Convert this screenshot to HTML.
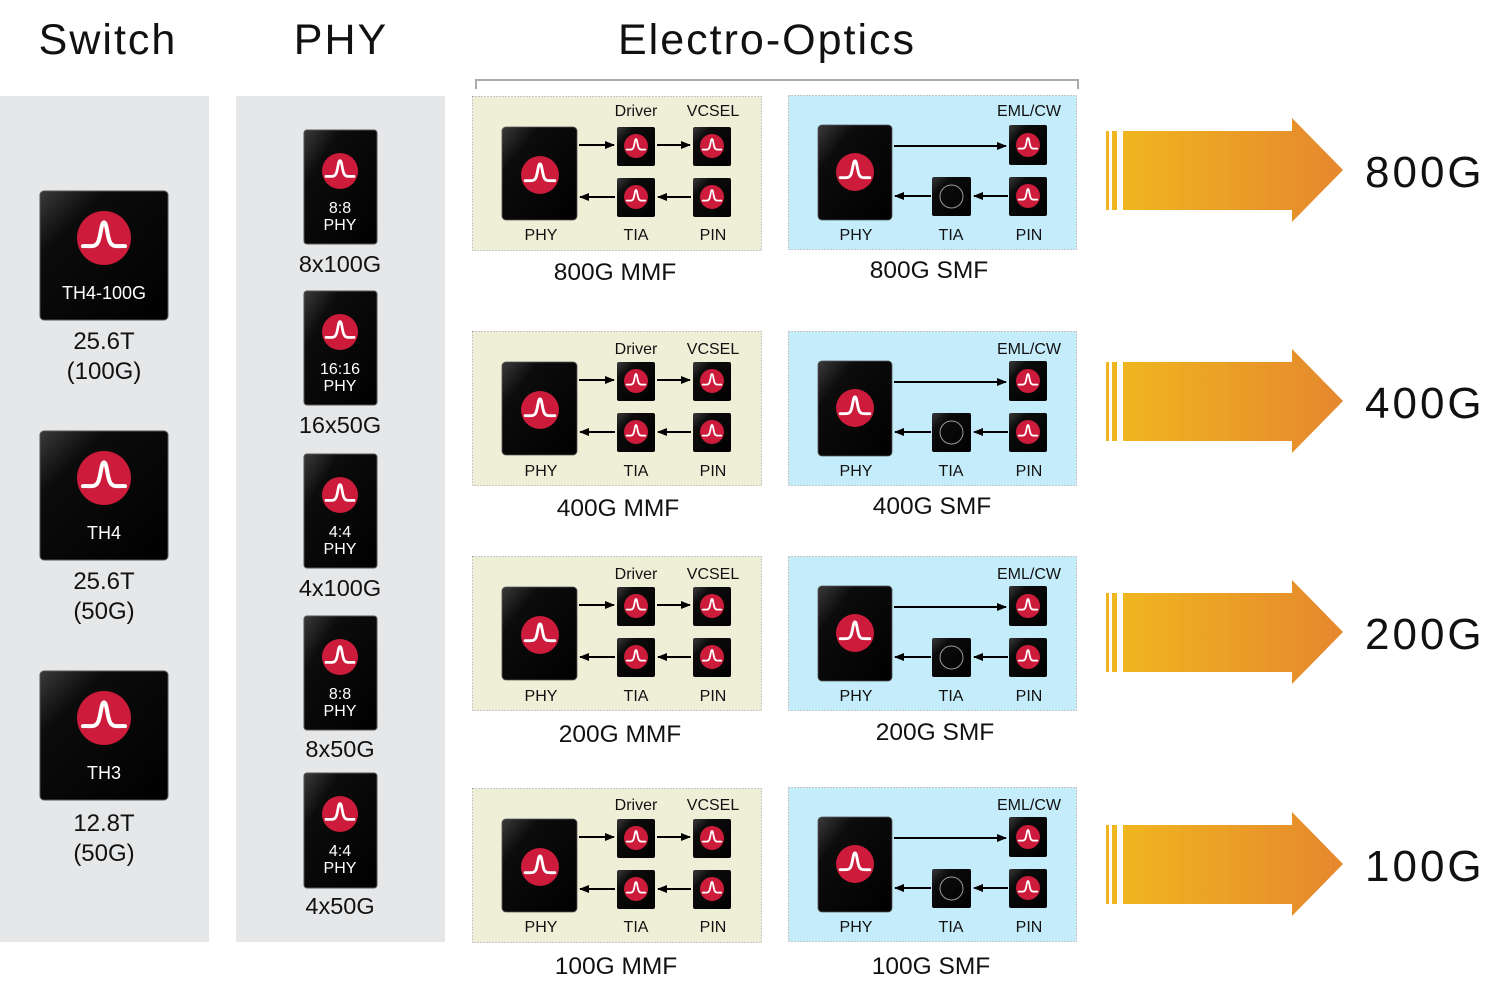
<!DOCTYPE html>
<html><head><meta charset="utf-8"><style>
html,body{margin:0;padding:0;background:#fff;}
svg{display:block;font-family:"Liberation Sans",Arial,sans-serif;}
</style></head><body>
<svg width="1510" height="996" viewBox="0 0 1510 996" xmlns="http://www.w3.org/2000/svg">
<defs>
<linearGradient id="chip" x1="0" y1="0" x2="1" y2="1"><stop offset="0" stop-color="#3a3a3a"/><stop offset="0.25" stop-color="#0c0c0c"/><stop offset="1" stop-color="#000"/></linearGradient>
<linearGradient id="org" x1="0" y1="0" x2="1" y2="0"><stop offset="0" stop-color="#f0b51f"/><stop offset="1" stop-color="#e5872e"/></linearGradient>
<marker id="ah" markerWidth="10" markerHeight="8" refX="9" refY="4" orient="auto" markerUnits="userSpaceOnUse"><path d="M0,0 L10,4 L0,8 z" fill="#000"/></marker>
<symbol id="logo" viewBox="-1 -1 2 2" overflow="visible"><circle r="1" fill="#cc1b3b"/><path d="M-0.78,0.3 C-0.5,0.28 -0.3,0.38 -0.2,0.1 C-0.1,-0.2 -0.1,-0.58 0,-0.58 C0.1,-0.58 0.1,-0.2 0.2,0.1 C0.3,0.38 0.5,0.28 0.78,0.3" fill="none" stroke="#fff" stroke-width="0.15" stroke-linecap="round"/></symbol>
<g id="mmf">
<rect x="472.5" y="96.5" width="289" height="154" fill="#efefd8" stroke="#9a9a9a" stroke-dasharray="1,2"/>
<rect x="502" y="127" width="75" height="93" rx="4" fill="url(#chip)" stroke="#555" stroke-width="0.8"/>
<use href="#logo" x="521" y="156" width="38" height="38"/>
<rect x="617" y="127" width="38" height="39" rx="2" fill="url(#chip)"/><use href="#logo" x="624" y="134" width="24" height="24"/>
<rect x="693" y="127" width="38" height="39" rx="2" fill="url(#chip)"/><use href="#logo" x="700" y="134" width="24" height="24"/>
<rect x="617" y="178" width="38" height="39" rx="2" fill="url(#chip)"/><use href="#logo" x="624" y="185" width="24" height="24"/>
<rect x="693" y="178" width="38" height="39" rx="2" fill="url(#chip)"/><use href="#logo" x="700" y="185" width="24" height="24"/>
<line x1="579" y1="145" x2="614" y2="145" stroke="#000" stroke-width="2" marker-end="url(#ah)"/>
<line x1="657" y1="145" x2="690" y2="145" stroke="#000" stroke-width="2" marker-end="url(#ah)"/>
<line x1="691" y1="197" x2="658" y2="197" stroke="#000" stroke-width="2" marker-end="url(#ah)"/>
<line x1="615" y1="197" x2="580" y2="197" stroke="#000" stroke-width="2" marker-end="url(#ah)"/>
</g>
<g id="smf">
<rect x="788.5" y="95.5" width="288" height="154" fill="#c4ecfa" stroke="#9a9a9a" stroke-dasharray="1,2"/>
<rect x="818" y="125" width="74" height="95" rx="4" fill="url(#chip)" stroke="#555" stroke-width="0.8"/>
<use href="#logo" x="836" y="153" width="38" height="38"/>
<rect x="1009" y="125" width="38" height="40" rx="2" fill="url(#chip)"/><use href="#logo" x="1016" y="133" width="24" height="24"/>
<rect x="932" y="177" width="39" height="39" rx="2" fill="url(#chip)"/><circle cx="951.5" cy="196.5" r="11.5" fill="none" stroke="#999" stroke-width="1"/>
<rect x="1009" y="177" width="38" height="39" rx="2" fill="url(#chip)"/><use href="#logo" x="1016" y="184" width="24" height="24"/>
<line x1="894" y1="146" x2="1006" y2="146" stroke="#000" stroke-width="2" marker-end="url(#ah)"/>
<line x1="1008" y1="196" x2="974" y2="196" stroke="#000" stroke-width="2" marker-end="url(#ah)"/>
<line x1="931" y1="196" x2="895" y2="196" stroke="#000" stroke-width="2" marker-end="url(#ah)"/>
</g>
<g id="bigarrow">
<rect x="1106" y="131" width="3" height="79" fill="#f0b51f"/>
<rect x="1112" y="131" width="5" height="79" fill="#f0b51f"/>
<polygon points="1123,131 1292,131 1292,118 1343,170 1292,222 1292,210 1123,210" fill="url(#org)"/>
</g>
</defs>

<g font-size="43" fill="#111" text-anchor="middle" letter-spacing="2">
<text x="108" y="54">Switch</text>
<text x="341" y="54">PHY</text>
<text x="767" y="54">Electro-Optics</text>
</g>
<path d="M476,89 L476,80 L1078,80 L1078,89" fill="none" stroke="#aaa" stroke-width="2"/>

<rect x="0" y="96" width="209" height="846" fill="#e6e7e9"/>
<rect x="236" y="96" width="209" height="846" fill="#e6e7e9"/>

<g>
<rect x="40" y="191" width="128" height="129" rx="4" fill="url(#chip)" stroke="#555"/>
<use href="#logo" x="77" y="211" width="54" height="54"/>
<rect x="40" y="431" width="128" height="129" rx="4" fill="url(#chip)" stroke="#555"/>
<use href="#logo" x="77" y="451" width="54" height="54"/>
<rect x="40" y="671" width="128" height="129" rx="4" fill="url(#chip)" stroke="#555"/>
<use href="#logo" x="77" y="691" width="54" height="54"/>
</g>
<g fill="#fff" font-size="18" text-anchor="middle">
<text x="104" y="299">TH4-100G</text>
<text x="104" y="539">TH4</text>
<text x="104" y="779">TH3</text>
</g>
<g fill="#111" font-size="24" text-anchor="middle">
<text x="104" y="349">25.6T</text><text x="104" y="379">(100G)</text>
<text x="104" y="589">25.6T</text><text x="104" y="619">(50G)</text>
<text x="104" y="831">12.8T</text><text x="104" y="861">(50G)</text>
</g>

<g>
<rect x="304" y="130" width="73" height="114" rx="3" fill="url(#chip)" stroke="#555"/><use href="#logo" x="322" y="153" width="36" height="36"/>
<rect x="304" y="291" width="73" height="114" rx="3" fill="url(#chip)" stroke="#555"/><use href="#logo" x="322" y="314" width="36" height="36"/>
<rect x="304" y="454" width="73" height="114" rx="3" fill="url(#chip)" stroke="#555"/><use href="#logo" x="322" y="477" width="36" height="36"/>
<rect x="304" y="616" width="73" height="114" rx="3" fill="url(#chip)" stroke="#555"/><use href="#logo" x="322" y="639" width="36" height="36"/>
<rect x="304" y="773" width="73" height="115" rx="3" fill="url(#chip)" stroke="#555"/><use href="#logo" x="322" y="796" width="36" height="36"/>
</g>
<g fill="#fff" font-size="16" text-anchor="middle">
<text x="340" y="213">8:8</text><text x="340" y="230">PHY</text>
<text x="340" y="374">16:16</text><text x="340" y="391">PHY</text>
<text x="340" y="537">4:4</text><text x="340" y="554">PHY</text>
<text x="340" y="699">8:8</text><text x="340" y="716">PHY</text>
<text x="340" y="856">4:4</text><text x="340" y="873">PHY</text>
</g>
<g fill="#111" font-size="23.5" text-anchor="middle">
<text x="340" y="272">8x100G</text>
<text x="340" y="433">16x50G</text>
<text x="340" y="596">4x100G</text>
<text x="340" y="757">8x50G</text>
<text x="340" y="914">4x50G</text>
</g>

<use href="#mmf"/><use href="#smf"/><use href="#bigarrow"/>
<use href="#mmf" y="235"/><use href="#smf" y="236"/><use href="#bigarrow" y="231"/>
<use href="#mmf" y="460"/><use href="#smf" y="461"/><use href="#bigarrow" y="462"/>
<use href="#mmf" y="692"/><use href="#smf" y="692"/><use href="#bigarrow" y="694"/>

<g fill="#111" font-size="16" text-anchor="middle">
<text x="636" y="116">Driver</text><text x="713" y="116">VCSEL</text>
<text x="541" y="240">PHY</text><text x="636" y="240">TIA</text><text x="713" y="240">PIN</text>
<text x="1029" y="116">EML/CW</text>
<text x="856" y="240">PHY</text><text x="951" y="240">TIA</text><text x="1029" y="240">PIN</text>

<text x="636" y="354">Driver</text><text x="713" y="354">VCSEL</text>
<text x="541" y="476">PHY</text><text x="636" y="476">TIA</text><text x="713" y="476">PIN</text>
<text x="1029" y="354">EML/CW</text>
<text x="856" y="476">PHY</text><text x="951" y="476">TIA</text><text x="1029" y="476">PIN</text>

<text x="636" y="579">Driver</text><text x="713" y="579">VCSEL</text>
<text x="541" y="701">PHY</text><text x="636" y="701">TIA</text><text x="713" y="701">PIN</text>
<text x="1029" y="579">EML/CW</text>
<text x="856" y="701">PHY</text><text x="951" y="701">TIA</text><text x="1029" y="701">PIN</text>

<text x="636" y="810">Driver</text><text x="713" y="810">VCSEL</text>
<text x="541" y="932">PHY</text><text x="636" y="932">TIA</text><text x="713" y="932">PIN</text>
<text x="1029" y="810">EML/CW</text>
<text x="856" y="932">PHY</text><text x="951" y="932">TIA</text><text x="1029" y="932">PIN</text>
</g>
<g fill="#111" font-size="24.5" text-anchor="middle">
<text x="615" y="280">800G MMF</text><text x="929" y="278">800G SMF</text>
<text x="618" y="516">400G MMF</text><text x="932" y="514">400G SMF</text>
<text x="620" y="742">200G MMF</text><text x="935" y="740">200G SMF</text>
<text x="616" y="974">100G MMF</text><text x="931" y="974">100G SMF</text>
</g>
<g fill="#111" font-size="44" letter-spacing="3">
<text x="1365" y="187">800G</text>
<text x="1365" y="418">400G</text>
<text x="1365" y="649">200G</text>
<text x="1365" y="881">100G</text>
</g>
</svg>
</body></html>
